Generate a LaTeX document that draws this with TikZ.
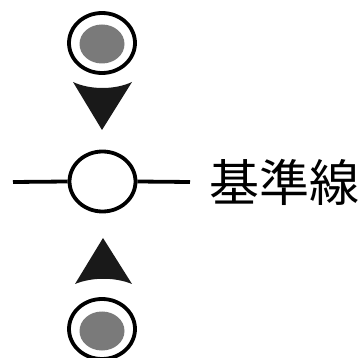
\documentclass[tikz,border=0pt]{standalone}
\usepackage{fontspec}
\newfontfamily\jpfont{Noto Sans CJK JP}
\usetikzlibrary{shapes.geometric}
\definecolor{dotgray}{RGB}{122,122,122}

\begin{document}
\begin{tikzpicture}[x=1pt, y=-1pt,
        ring/.style={draw, line width=3.8pt, ellipse, inner sep=0pt, minimum width=66pt, minimum height=60pt},
        dot/.style={fill=dotgray, ellipse, inner sep=0pt, minimum width=45pt, minimum height=39pt},
        pointer/.style={fill=black!90},
        label/.style={anchor=west, inner sep=0pt, font=\jpfont\fontsize{50pt}{50pt}\selectfont}]

    \useasboundingbox (0,0) rectangle (359,358);

    \node[ring] (upper) at (102,43) {};
    \node[dot] (upperdot) at (102,44) {};
    \node[ring, fill=white] (base) at (102.5,181.5) {};
    \node[ring] (lower) at (102,329) {};
    \node[dot] (lowerdot) at (102,331) {};
    \node[label] (basename) at (209,182) {基準線};

    \coordinate (lineL) at (13,182);
    \coordinate (lineR) at (190,182);
    \draw[line width=3.8pt] (lineL) -- (base.west);
    \draw[line width=3.8pt] (base.east) -- (lineR);

    % pointers
    \fill[pointer] (73,82) .. controls (90,90) and (115,90) .. (132,82) -- (102,130) -- cycle;
    \fill[pointer] (75,284) .. controls (92,277) and (115,277) .. (132,284) -- (103,238) -- cycle;
\end{tikzpicture}
\end{document}
